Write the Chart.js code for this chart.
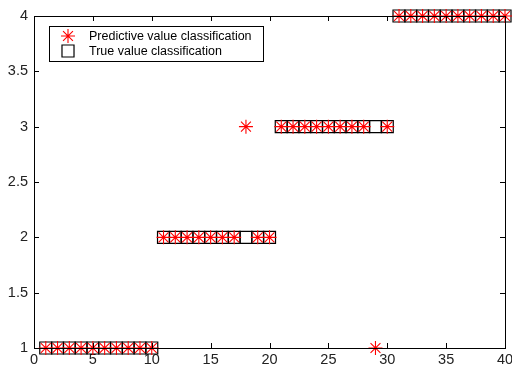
<!DOCTYPE html>
<html>
<head>
<meta charset="utf-8">
<script src="https://cdn.jsdelivr.net/npm/chart.js@4.4.1/dist/chart.umd.min.js"></script>
<style>
  html, body { margin: 0; padding: 0; background: #fff; }
  #wrap { width: 512px; height: 372px; overflow: hidden; }
</style>
</head>
<body>
<div id="wrap"><canvas id="grafico" width="520" height="372"></canvas></div>
<script>
// amostras 1..40
const amostras = [1, 2, 3, 4, 5, 6, 7, 8, 9, 10,
    11, 12, 13, 14, 15, 16, 17, 18, 19, 20,
    21, 22, 23, 24, 25, 26, 27, 28, 29, 30,
    31, 32, 33, 34, 35, 36, 37, 38, 39, 40];

const classeReal = [1, 1, 1, 1, 1, 1, 1, 1, 1, 1,
    2, 2, 2, 2, 2, 2, 2, 2, 2, 2,
    3, 3, 3, 3, 3, 3, 3, 3, 3, 3,
    4, 4, 4, 4, 4, 4, 4, 4, 4, 4];

const classePrevista = [1, 1, 1, 1, 1, 1, 1, 1, 1, 1,
    2, 2, 2, 2, 2, 2, 2, 3, 2, 2,
    3, 3, 3, 3, 3, 3, 3, 3, 1, 3,
    4, 4, 4, 4, 4, 4, 4, 4, 4, 4];

const nomesSeries = ['Predictive value classification', 'True value classification'];
const ticksX = [0, 5, 10, 15, 20, 25, 30, 35, 40];
const ticksY = [1, 1.5, 2, 2.5, 3, 3.5, 4];

const fonte = '"Liberation Sans", Arial, Helvetica, sans-serif';

window.onload = () => {
    apresentarGrafico();
}

// caixa + marcas para dentro, estilo matlab
const caixaPlugin = {
    id: 'caixa',
    afterDatasetsDraw(chart) {
        const ctx = chart.ctx;
        const a = chart.chartArea;
        const sx = chart.scales.x;
        const sy = chart.scales.y;
        const L = 5;
        ctx.save();
        ctx.strokeStyle = '#000';
        ctx.lineWidth = 1;
        ctx.beginPath();
        ticksX.forEach(v => {
            const px = Math.round(sx.getPixelForValue(v)) + 0.5;
            ctx.moveTo(px, a.bottom); ctx.lineTo(px, a.bottom - L);
            ctx.moveTo(px, a.top); ctx.lineTo(px, a.top + L);
        });
        ticksY.forEach(v => {
            const py = Math.round(sy.getPixelForValue(v)) + 0.5;
            ctx.moveTo(a.left, py); ctx.lineTo(a.left + L, py);
            ctx.moveTo(a.right, py); ctx.lineTo(a.right - L, py);
        });
        ctx.stroke();
        ctx.strokeRect(Math.round(a.left) + 0.5, Math.round(a.top) + 0.5,
            Math.round(a.right - a.left), Math.round(a.bottom - a.top));
        ctx.restore();
    }
};

// legenda dentro da area do grafico
const legendaPlugin = {
    id: 'legendaInterna',
    afterDraw(chart) {
        const ctx = chart.ctx;
        const x0 = 49.5, y0 = 26.5, w = 214, h = 35;
        ctx.save();
        ctx.fillStyle = '#fff';
        ctx.fillRect(x0, y0, w, h);
        ctx.strokeStyle = '#000';
        ctx.lineWidth = 1;
        ctx.strokeRect(x0, y0, w, h);

        const sets = chart.data.datasets;
        const linhas = [36, 51];
        sets.forEach((ds, i) => {
            ctx.strokeStyle = ds.borderColor;
            ctx.fillStyle = ds.backgroundColor;
            ctx.lineWidth = ds.borderWidth;
            Chart.helpers.drawPoint(ctx, {
                pointStyle: ds.pointStyle,
                radius: ds.pointRadius,
                borderWidth: ds.borderWidth
            }, 68, linhas[i]);
        });
        ctx.fillStyle = '#000';
        ctx.font = '12.5px ' + fonte;
        ctx.textBaseline = 'middle';
        ctx.textAlign = 'left';
        sets.forEach((ds, i) => {
            ctx.fillText(ds.label, 89, linhas[i] + 0.5);
        });
        ctx.restore();
    }
};

function apresentarGrafico() {
    const contexto = document.getElementById('grafico');

    const grafico = new Chart(contexto, {
        type: 'scatter',
        data: {
            datasets: [{
                label: nomesSeries[0],
                data: amostras.map((x, i) => ({ x: x, y: classePrevista[i] })),
                pointStyle: 'star',
                pointRadius: 7,
                borderColor: '#ff0000',
                backgroundColor: '#ff0000',
                borderWidth: 1.1,
                clip: false
            }, {
                label: nomesSeries[1],
                data: amostras.map((x, i) => ({ x: x, y: classeReal[i] })),
                pointStyle: 'rect',
                pointRadius: 8.5,
                borderColor: '#000000',
                backgroundColor: 'rgba(0,0,0,0)',
                borderWidth: 1.2,
                clip: false
            }]
        },
        options: {
            responsive: false,
            maintainAspectRatio: false,
            animation: false,
            // canvas com 520px, cortado em 512 pelo div (o "40" fica cortado como no original)
            layout: { padding: { top: 16, right: 15, left: 0, bottom: 0 } },
            plugins: {
                legend: { display: false },
                tooltip: { enabled: false }
            },
            scales: {
                x: {
                    type: 'linear',
                    min: 0,
                    max: 40,
                    afterBuildTicks: s => { s.ticks = ticksX.map(v => ({ value: v })); },
                    afterFit: s => { s.height = 24; },
                    grid: { display: false, drawTicks: false },
                    border: { display: false },
                    ticks: {
                        padding: 3,
                        color: '#222',
                        font: { family: fonte, size: 14.5 },
                        maxRotation: 0,
                        autoSkip: false,
                        callback: v => String(v)
                    }
                },
                y: {
                    type: 'linear',
                    min: 1,
                    max: 4,
                    afterBuildTicks: s => { s.ticks = ticksY.map(v => ({ value: v })); },
                    afterFit: s => { s.width = 34; s.paddingTop = 0; s.paddingBottom = 0; },
                    grid: { display: false, drawTicks: false },
                    border: { display: false },
                    ticks: {
                        padding: 6,
                        color: '#222',
                        font: { family: fonte, size: 14.5 },
                        autoSkip: false,
                        callback: v => String(v)
                    }
                }
            }
        },
        plugins: [caixaPlugin, legendaPlugin]
    });
}
</script>
</body>
</html>
